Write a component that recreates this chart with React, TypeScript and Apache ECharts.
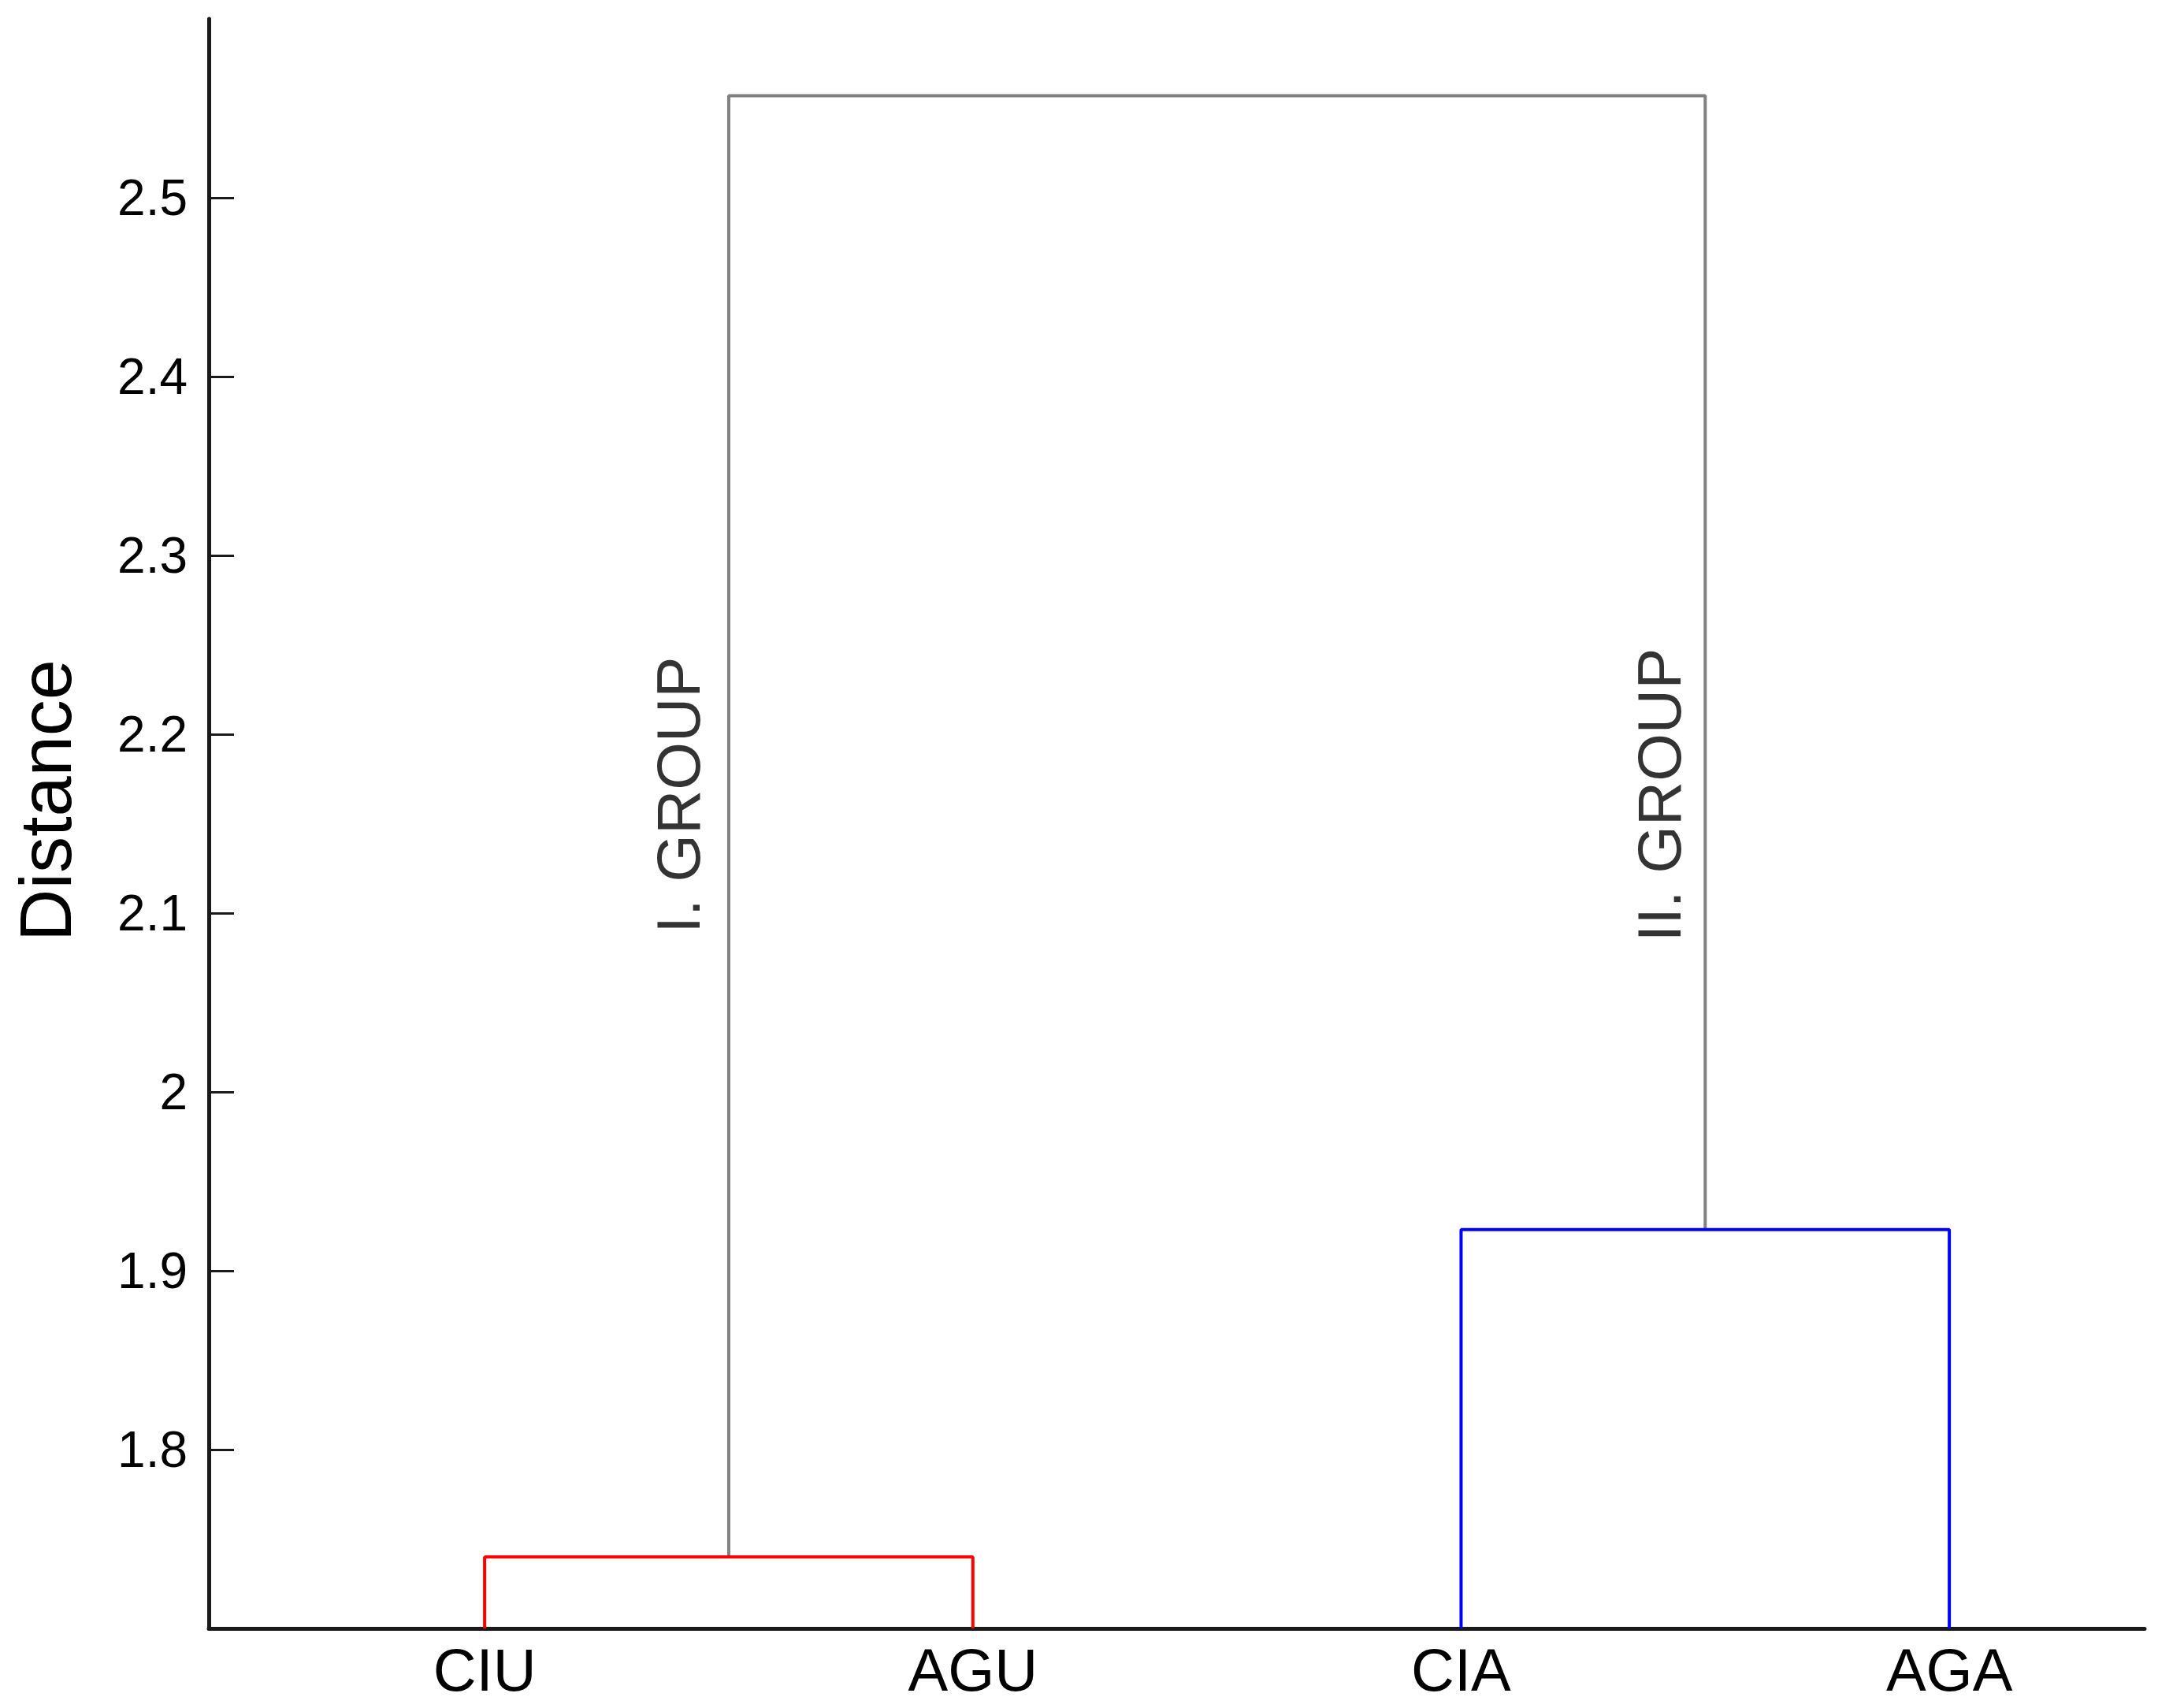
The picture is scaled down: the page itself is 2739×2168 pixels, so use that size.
import React, { useEffect, useRef } from "react";
import * as echarts from "echarts";

const leaves = ["CIU", "AGU", "CIA", "AGA"];
const leafPositions = [1, 2, 3, 4];
const baseDistance = 1.7;
// merge heights: red (CIU+AGU), blue (CIA+AGA), gray (root)
const redMerge = 1.74;
const blueMerge = 1.923;
const rootMerge = 2.557;
const yTicks = [1.8, 1.9, 2.0, 2.1, 2.2, 2.3, 2.4, 2.5];
const groupLabels = ["I. GROUP", "II. GROUP"];
const groupLabelPos = [
  [1.396, 2.166],
  [3.406, 2.166],
];
const yAxisTitle = "Distance";

const FONT = "'Liberation Sans', Arial, Helvetica, sans-serif";

export default function App() {
  const ref = useRef<HTMLDivElement>(null);
  useEffect(() => {
    if (!ref.current) return;
    const chart = echarts.init(ref.current, null, { renderer: "svg" });
    const [x1, x2, x3, x4] = leafPositions;
    const redLink = [
      [x1, baseDistance],
      [x1, redMerge],
      [x2, redMerge],
      [x2, baseDistance],
    ];
    const blueLink = [
      [x3, baseDistance],
      [x3, blueMerge],
      [x4, blueMerge],
      [x4, baseDistance],
    ];
    const m1 = (x1 + x2) / 2;
    const m2 = (x3 + x4) / 2;
    const rootLink = [
      [m1, redMerge],
      [m1, rootMerge],
      [m2, rootMerge],
      [m2, blueMerge],
    ];
    const lineSeries = (data: number[][], color: string) => ({
      type: "line",
      data,
      symbol: "none",
      silent: true,
      lineStyle: { color, width: 4 },
      z: 3,
    });
    chart.setOption({
      animation: false,
      backgroundColor: "#ffffff",
      grid: {
        left: 265,
        right: 17,
        top: 24,
        bottom: 101,
        containLabel: false,
        outerBoundsMode: "none",
      },
      graphic: [
        {
          type: "text",
          x: 58,
          y: 1016,
          rotation: Math.PI / 2,
          silent: true,
          style: {
            text: yAxisTitle,
            fontSize: 92,
            fontFamily: FONT,
            fill: "#000",
            align: "center",
            verticalAlign: "middle",
          },
        },
      ],
      xAxis: {
        type: "value",
        min: 0.435,
        max: 4.4,
        splitLine: { show: false },
        axisLine: { show: true, onZero: false, lineStyle: { color: "#1a1a1a", width: 5 } },
        axisTick: { show: false },
        axisLabel: {
          show: true,
          customValues: leafPositions,
          formatter: (v: number) => leaves[Math.round(v) - 1] ?? "",
          fontSize: 76,
          fontFamily: FONT,
          color: "#000",
          margin: 14,
        },
      },
      yAxis: {
        type: "value",
        min: baseDistance,
        max: 2.6,
        splitLine: { show: false },
        axisLine: { show: true, onZero: false, lineStyle: { color: "#1a1a1a", width: 5 } },
        axisTick: {
          show: true,
          inside: true,
          length: 32,
          customValues: yTicks,
          lineStyle: { color: "#1a1a1a", width: 3 },
        },
        axisLabel: {
          show: true,
          customValues: yTicks,
          formatter: (v: number) => String(Math.round(v * 10) / 10),
          fontSize: 64,
          fontFamily: FONT,
          color: "#000",
          margin: 27,
        },
      },
      series: [
        lineSeries(rootLink, "#808080"),
        lineSeries(redLink, "#ff0000"),
        lineSeries(blueLink, "#0000ff"),
        {
          type: "scatter",
          symbolSize: 0,
          silent: true,
          data: groupLabelPos.map((p, i) => ({ value: p, name: groupLabels[i] })),
          label: {
            show: true,
            position: "inside",
            rotate: 90,
            formatter: (p: any) => p.name,
            fontSize: 78,
            fontFamily: FONT,
            color: "#000",
          },
          z: 5,
        },
      ],
    });
    return () => chart.dispose();
  }, []);
  return (
    <div
      ref={ref}
      style={{ position: "fixed", left: 0, top: 0, width: 2739, height: 2168, background: "#fff" }}
    />
  );
}
